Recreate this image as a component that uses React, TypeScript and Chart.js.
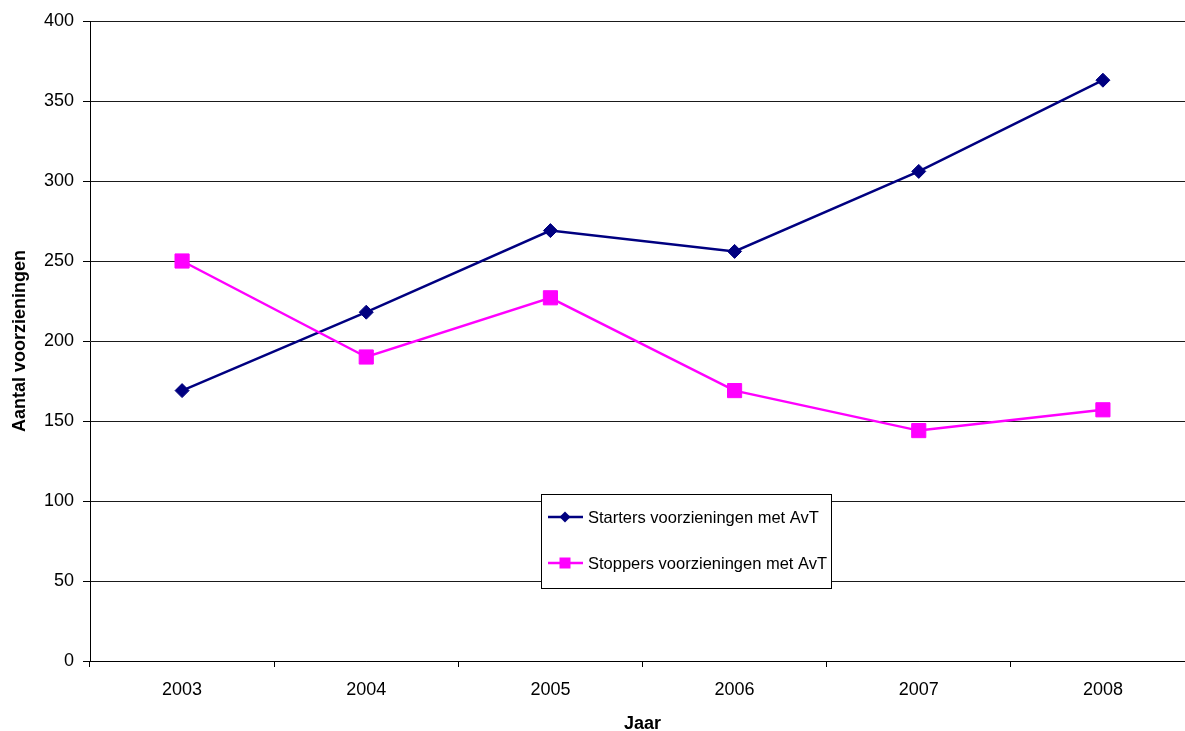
import { useEffect, useRef } from 'react';
import { Chart, registerables } from 'chart.js';

Chart.register(...registerables);

// Years on the category axis
const years = ['2003', '2004', '2005', '2006', '2007', '2008'];
// Number of provisions started / stopped per year
const starters = [169, 218, 269, 256, 306, 363];
const stoppers = [250, 190, 227, 169, 144, 157];

const startersLabel = 'Starters voorzieningen met AvT';
const stoppersLabel = 'Stoppers voorzieningen met AvT';

const yMin = 0;
const yMax = 400;
const yStep = 50;

const FONT = '"Liberation Sans", Arial, Helvetica, sans-serif';
const NAVY = '#000080';
const MAGENTA = '#FF00FF';

// Boxed legend drawn inside the plot area
const boxLegend = {
  id: 'boxLegend',
  afterDraw(chart: any) {
    const ctx = chart.ctx as CanvasRenderingContext2D;
    const left = 541;
    const top = 494;
    const width = 290;
    const height = 94;
    ctx.save();
    ctx.fillStyle = '#ffffff';
    ctx.fillRect(left, top, width, height);
    ctx.strokeStyle = '#000000';
    ctx.lineWidth = 1;
    ctx.strokeRect(left + 0.5, top + 0.5, width, height);

    const rows = chart.data.datasets.map((ds: any, i: number) => ({
      text: ds.label,
      color: ds.borderColor,
      style: ds.pointStyle,
      y: top + 23 + i * 46,
    }));
    ctx.font = `16.5px ${FONT}`;
    ctx.textBaseline = 'middle';
    ctx.textAlign = 'left';
    for (const r of rows) {
      ctx.strokeStyle = r.color;
      ctx.lineWidth = 2.5;
      ctx.beginPath();
      ctx.moveTo(left + 7, r.y);
      ctx.lineTo(left + 42, r.y);
      ctx.stroke();
      const cx = left + 24;
      ctx.fillStyle = r.color;
      if (r.style === 'rectRot') {
        const s = 5.5;
        ctx.beginPath();
        ctx.moveTo(cx, r.y - s);
        ctx.lineTo(cx + s, r.y);
        ctx.lineTo(cx, r.y + s);
        ctx.lineTo(cx - s, r.y);
        ctx.closePath();
        ctx.fill();
      } else {
        const s = 5.5;
        ctx.fillRect(cx - s, r.y - s, 2 * s, 2 * s);
      }
      ctx.fillStyle = '#000000';
      ctx.fillText(r.text, left + 47, r.y + 1);
    }
    ctx.restore();
  },
};

export default function App() {
  const canvasRef = useRef<HTMLCanvasElement | null>(null);

  useEffect(() => {
    const canvas = canvasRef.current;
    if (!canvas) return;
    const chart = new Chart(canvas, {
      type: 'line',
      data: {
        labels: years,
        datasets: [
          {
            label: startersLabel,
            data: starters,
            borderColor: NAVY,
            backgroundColor: NAVY,
            borderWidth: 2.5,
            pointStyle: 'rectRot',
            pointRadius: 7,
            pointBorderWidth: 1,
            pointBackgroundColor: NAVY,
            pointBorderColor: NAVY,
            tension: 0,
            order: 1,
          },
          {
            label: stoppersLabel,
            data: stoppers,
            borderColor: MAGENTA,
            backgroundColor: MAGENTA,
            borderWidth: 2.5,
            pointStyle: 'rect',
            pointRadius: 10,
            pointBorderWidth: 1,
            pointBackgroundColor: MAGENTA,
            pointBorderColor: MAGENTA,
            tension: 0,
            order: 0,
          },
        ],
      },
      options: {
        responsive: false,
        animation: false,
        devicePixelRatio: 1,
        layout: { padding: { top: 21, left: 0, right: 0, bottom: 0 } },
        plugins: {
          legend: { display: false },
          tooltip: { enabled: false },
        },
        scales: {
          x: {
            type: 'category',
            offset: true,
            grid: {
              display: true,
              offset: true,
              drawOnChartArea: false,
              drawTicks: true,
              tickLength: 6,
              color: '#000000',
              lineWidth: 1,
            },
            border: { display: true, color: '#000000', width: 1 },
            ticks: {
              color: '#000000',
              font: { family: FONT, size: 18 },
              padding: 12,
              maxRotation: 0,
            },
            title: {
              display: true,
              text: 'Jaar',
              color: '#000000',
              font: { family: FONT, size: 18, weight: 'bold' },
              padding: { top: 0, bottom: 5.5 },
            },
            afterFit(scale: any) {
              scale.height = 79;
            },
          },
          y: {
            min: yMin,
            max: yMax,
            grid: {
              color: '#1a1a1a',
              lineWidth: 1,
              drawTicks: true,
              tickLength: 7,
              tickColor: '#000000',
            },
            border: { display: true, color: '#000000', width: 1 },
            ticks: {
              stepSize: yStep,
              color: '#000000',
              font: { family: FONT, size: 18 },
              padding: 9,
            },
            title: {
              display: true,
              text: 'Aantal voorzieningen',
              color: '#000000',
              font: { family: FONT, size: 18, weight: 'bold' },
              padding: { top: 9, bottom: 0 },
            },
            afterFit(scale: any) {
              scale.width = 90;
            },
          },
        },
      },
      plugins: [boxLegend],
    });
    return () => chart.destroy();
  }, []);

  return (
    <div
      style={{
        position: 'fixed',
        left: 0,
        top: 0,
        width: '1185px',
        height: '731px',
        overflow: 'hidden',
        background: '#ffffff',
      }}
    >
      <canvas
        ref={canvasRef}
        width={1206}
        height={740}
        style={{ display: 'block', width: '1206px', height: '740px' }}
      />
    </div>
  );
}
